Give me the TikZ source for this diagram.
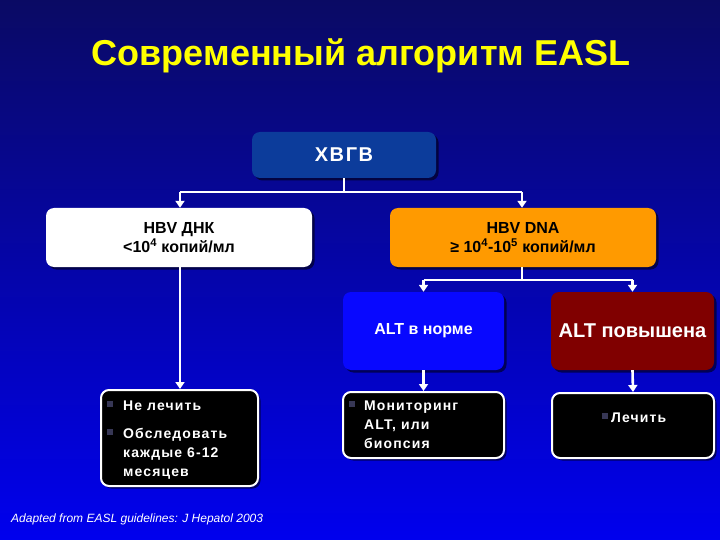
\documentclass[tikz,border=0pt]{standalone}
\usepackage{fontspec}
\setmainfont{Liberation Sans}
\newfontfamily\spacedfont[LetterSpace=8]{Liberation Sans}
\usetikzlibrary{shadows,arrows.meta}
\definecolor{bgtop}{RGB}{10,10,100}
\definecolor{bgbot}{RGB}{0,0,238}
\definecolor{titleyel}{RGB}{255,255,0}
\definecolor{hvgvblue}{RGB}{12,60,155}
\definecolor{orangebox}{RGB}{255,154,0}
\definecolor{altblue}{RGB}{8,8,255}
\definecolor{altred}{RGB}{128,0,0}
\definecolor{bulletgrey}{RGB}{55,55,85}
\tikzset{
  box/.style={rounded corners=8pt, minimum width=#1, inner sep=0pt,
    drop shadow={shadow xshift=2.5pt, shadow yshift=-2.5pt, opacity=0.55, fill=black}},
  blackbox/.style={box=#1, fill=black, draw=white, line width=2pt},
  conn/.style={draw=white, line width=2.6pt},
  arr/.style={conn, -{Triangle[width=9pt,length=7pt]}},
  bul/.style={fill=bulletgrey, minimum size=6.5pt, inner sep=0pt},
  wtxt/.style={text=white, font=\spacedfont\bfseries\fontsize{14}{17}\selectfont, anchor=base west, inner sep=0pt},
}
\begin{document}
\begin{tikzpicture}[x=1pt,y=-1pt]
\useasboundingbox (0,0) rectangle (720,540);
\shade[top color=bgtop, bottom color=bgbot] (0,0) rectangle (720,540);
\node[text=titleyel, font=\bfseries\fontsize{36}{40}\selectfont] (title) at (361,56) {Современный алгоритм EASL};

\node[box=184pt, minimum height=46pt, fill=hvgvblue, text=white, font=\spacedfont\bfseries\fontsize{20}{22}\selectfont] (hvgv) at (344,155) {ХВГВ};
\node[box=266pt, minimum height=59pt, fill=white, align=center, font=\bfseries\fontsize{16}{19}\selectfont] (low) at (179,237.5) {HBV ДНК\\<10\textsuperscript{4} копий/мл};
\node[box=266pt, minimum height=59pt, fill=orangebox, align=center, font=\bfseries\fontsize{16}{19}\selectfont] (high) at (523,237.5) {HBV DNA\\≥ 10\textsuperscript{4}-10\textsuperscript{5} копий/мл};
\node[box=161pt, minimum height=78pt, fill=altblue, text=white, font=\bfseries\fontsize{16}{19}\selectfont] (altn) at (423.5,331) {ALT в норме};
\node[box=163pt, minimum height=78pt, fill=altred, text=white, font=\bfseries\fontsize{20}{23}\selectfont] (alth) at (632.5,331) {ALT повышена};

\node[blackbox=157pt, minimum height=96pt] (b1) at (179.5,438) {};
\node[blackbox=161pt, minimum height=66pt] (b2) at (423.5,425) {};
\node[blackbox=162pt, minimum height=65pt] (b3) at (633,425.5) {};

% connectors
\coordinate (j1) at (344,192);
\coordinate (jl) at (180,192);
\coordinate (jr) at (522,192);
\draw[conn] (hvgv.south) -- (j1);
\draw[conn] (jl) -- (jr);
\draw[arr] (jl) -- (jl |- low.north);
\draw[arr] (jr) -- (jr |- high.north);
\draw[arr] (low.south -| jl) -- (jl |- b1.north);
\coordinate (j2) at (522,280);
\coordinate (j2l) at (423.5,280);
\coordinate (j2r) at (632.5,280);
\draw[conn] (high.south -| j2) -- (j2);
\draw[conn] (j2l) -- (j2r);
\draw[arr] (j2l) -- (j2l |- altn.north);
\draw[arr] (j2r) -- (j2r |- alth.north);
\draw[arr] (altn.south) -- (b2.north);
\draw[arr] (alth.south) -- (b3.north);

% bullet texts
\node[bul] (q1) at (110,404) {};
\node[wtxt] (t1) at (123,410) {Не лечить};
\node[bul] (q2) at (110,432) {};
\node[wtxt] (t2) at (123,438) {Обследовать};
\node[wtxt] (t3) at (123,457) {каждые 6-12};
\node[wtxt] (t4) at (123,476) {месяцев};
\node[bul] (q3) at (352,404) {};
\node[wtxt] (t5) at (364,410) {Мониторинг};
\node[wtxt] (t6) at (364,429) {ALT, или};
\node[wtxt] (t7) at (364,448) {биопсия};
\node[bul] (q4) at (605,416) {};
\node[wtxt] (t8) at (611,422) {Лечить};

\node[text=white, font=\itshape\fontsize{12}{14}\selectfont, anchor=base west, inner sep=0pt] (foot) at (11,522) {Adapted from EASL guidelines: J Hepatol 2003};
\end{tikzpicture}
\end{document}
